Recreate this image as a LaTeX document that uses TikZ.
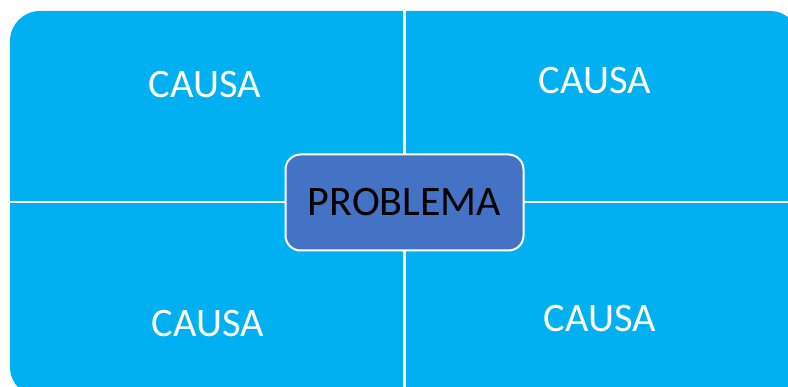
\documentclass[tikz,border=0pt]{standalone}
\usepackage{fontspec}
\setmainfont{Carlito}
\definecolor{cyanq}{HTML}{00B0F0}
\definecolor{probfill}{HTML}{4472C4}
\begin{document}
\begin{tikzpicture}[x=1pt,y=-1pt,
  causa/.style={text=white,font=\fontsize{40.5}{40.5}\selectfont,inner sep=0pt},
  probbox/.style={draw=white,line width=2pt,fill=probfill,rounded corners=15pt,
    minimum width=238pt,minimum height=96pt,text=black,font=\fontsize{42}{42}\selectfont,inner sep=0pt}]
\useasboundingbox (0,0) rectangle (788,387);
\begin{scope}
\clip (0,0) rectangle (788,387);
\fill[cyanq, rounded corners=30pt] (10,11) rectangle (800,397);
\fill[white] (403,0) rectangle (405.5,387);
\fill[white] (0,201) rectangle (788,203.5);
\end{scope}
\node[causa] (c1) at (205,84.5) {CAUSA};
\node[causa] (c2) at (595,81) {CAUSA};
\node[causa] (c3) at (208,323.5) {CAUSA};
\node[causa] (c4) at (600,318.7) {CAUSA};
\node[probbox] (p) at (404.5,202.5) {PROBLEMA};
\end{tikzpicture}
\end{document}
